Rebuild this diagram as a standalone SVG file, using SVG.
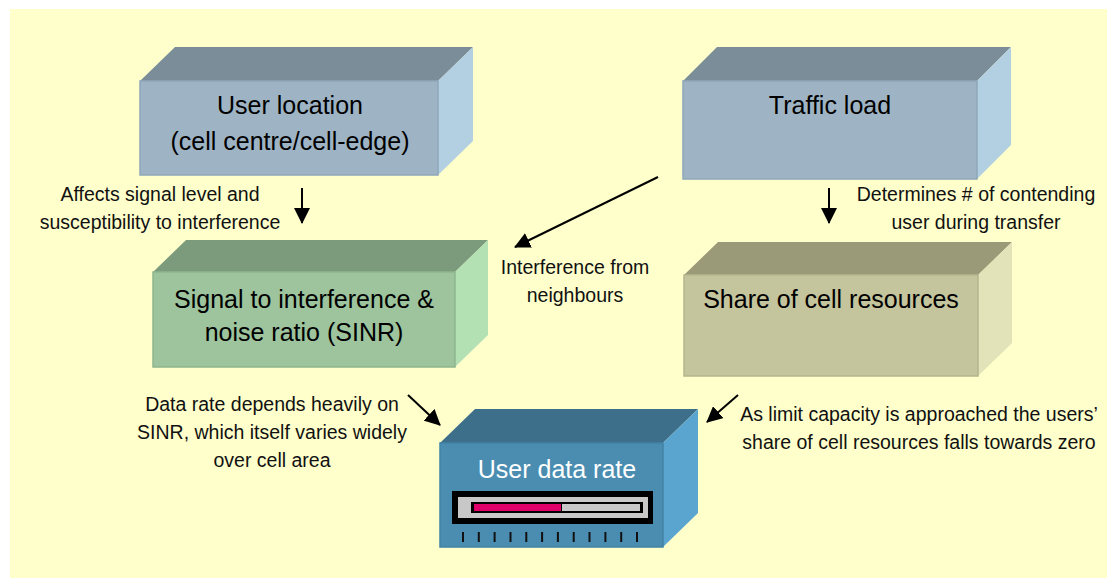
<svg xmlns="http://www.w3.org/2000/svg" width="1107" height="578" viewBox="0 0 1107 578">
  <defs>
    <style>
      .box { font-family: "Liberation Sans", Arial, sans-serif; font-size: 25px; fill: #000; text-anchor: middle; }
      .note { font-family: "Liberation Sans", Arial, sans-serif; font-size: 19.5px; fill: #111; text-anchor: middle; }
      .conn { stroke: #000; stroke-width: 2; fill: none; marker-end: url(#head); }
      .tick { stroke: #111; stroke-width: 2; }
    </style>
    <marker id="head" markerUnits="userSpaceOnUse" markerWidth="16" markerHeight="16" refX="15" refY="8" orient="auto" viewBox="0 0 16 16">
      <path d="M0,0 L16,8 L0,16 z" fill="#000"/>
    </marker>
  </defs>

  <rect x="0" y="0" width="1107" height="578" fill="#ffffff"/>
  <rect x="10" y="9" width="1097" height="569" fill="#FFFFCC"/>

  <g id="user-location">
    <polygon points="140,81 175,47 473,47 438,81" fill="#7B8D99"/>
    <polygon points="438,81 473,47 473,141 438,175" fill="#B3CFE2"/>
    <rect x="140" y="81" width="298" height="94" fill="#9EB4C4" stroke="#8FA7B8" stroke-width="1.5"/>
    <text class="box" x="290" y="114">User location</text>
    <text class="box" x="290" y="150">(cell centre/cell-edge)</text>
  </g>

  <g id="traffic-load">
    <polygon points="683,81 717,47 1011,47 977,81" fill="#7B8D99"/>
    <polygon points="977,81 1011,47 1011,145 977,179" fill="#B3CFE2"/>
    <rect x="683" y="81" width="294" height="98" fill="#9EB4C4" stroke="#8FA7B8" stroke-width="1.5"/>
    <text class="box" x="830" y="114">Traffic load</text>
  </g>

  <g id="sinr">
    <polygon points="153,272 186,240 488,240 455,272" fill="#7C9A7C"/>
    <polygon points="455,272 488,240 488,335 455,367" fill="#B4E1B4"/>
    <rect x="153" y="272" width="302" height="95" fill="#9DC49D" stroke="#8DB68D" stroke-width="1.5"/>
    <text class="box" x="304" y="308">Signal to interference &amp;</text>
    <text class="box" x="304" y="341">noise ratio (SINR)</text>
  </g>

  <g id="share">
    <polygon points="684,275 718,242 1012,242 978,275" fill="#9A9A78"/>
    <polygon points="978,275 1012,242 1012,343 978,376" fill="#E3E3B9"/>
    <rect x="684" y="275" width="294" height="101" fill="#C4C49D" stroke="#B5B58E" stroke-width="1.5"/>
    <text class="box" x="831" y="308">Share of cell resources</text>
  </g>

  <g id="user-data-rate">
    <polygon points="440,443 475,409 698,409 663,443" fill="#3D6F8B"/>
    <polygon points="663,443 698,409 698,513 663,547" fill="#5AA4D0"/>
    <rect x="440" y="443" width="223" height="104" fill="#4A8DB1" stroke="#4282A5" stroke-width="1.5"/>
    <text class="box" x="557" y="478" fill="#ffffff" style="fill:#ffffff">User data rate</text>
    <rect x="452" y="491" width="201" height="33" fill="#000"/>
    <rect x="458" y="497" width="190" height="21" fill="#C8C8C8"/>
    <rect x="471" y="502" width="172" height="11" fill="#000"/>
    <rect x="474" y="504" width="87" height="7" fill="#E0006A"/>
    <rect x="562" y="504" width="78" height="7" fill="#C8C8C8"/>
    <g>
      <line class="tick" x1="463" y1="532" x2="463" y2="542"/>
      <line class="tick" x1="478.8" y1="532" x2="478.8" y2="542"/>
      <line class="tick" x1="494.6" y1="532" x2="494.6" y2="542"/>
      <line class="tick" x1="510.5" y1="532" x2="510.5" y2="542"/>
      <line class="tick" x1="526.3" y1="532" x2="526.3" y2="542"/>
      <line class="tick" x1="542.1" y1="532" x2="542.1" y2="542"/>
      <line class="tick" x1="557.9" y1="532" x2="557.9" y2="542"/>
      <line class="tick" x1="573.7" y1="532" x2="573.7" y2="542"/>
      <line class="tick" x1="589.5" y1="532" x2="589.5" y2="542"/>
      <line class="tick" x1="605.4" y1="532" x2="605.4" y2="542"/>
      <line class="tick" x1="621.2" y1="532" x2="621.2" y2="542"/>
      <line class="tick" x1="637" y1="532" x2="637" y2="542"/>
    </g>
  </g>

  <g id="connectors">
    <line class="conn" x1="302" y1="188" x2="302" y2="223"/>
    <line class="conn" x1="829" y1="188" x2="829" y2="223"/>
    <line class="conn" x1="658" y1="177" x2="515" y2="247"/>
    <line class="conn" x1="408" y1="395" x2="440" y2="425"/>
    <line class="conn" x1="738" y1="395" x2="707" y2="422"/>
  </g>

  <g id="labels">
    <text class="note" x="160" y="201">Affects signal level and</text>
    <text class="note" x="160" y="229">susceptibility to interference</text>
    <text class="note" x="976" y="201">Determines # of contending</text>
    <text class="note" x="976" y="229">user during transfer</text>
    <text class="note" x="575" y="274">Interference from</text>
    <text class="note" x="575" y="302">neighbours</text>
    <text class="note" x="272" y="411">Data rate depends heavily on</text>
    <text class="note" x="272" y="439">SINR, which itself varies widely</text>
    <text class="note" x="272" y="467">over cell area</text>
    <text class="note" x="919" y="421">As limit capacity is approached the users’</text>
    <text class="note" x="919" y="449">share of cell resources falls towards zero</text>
  </g>
</svg>
